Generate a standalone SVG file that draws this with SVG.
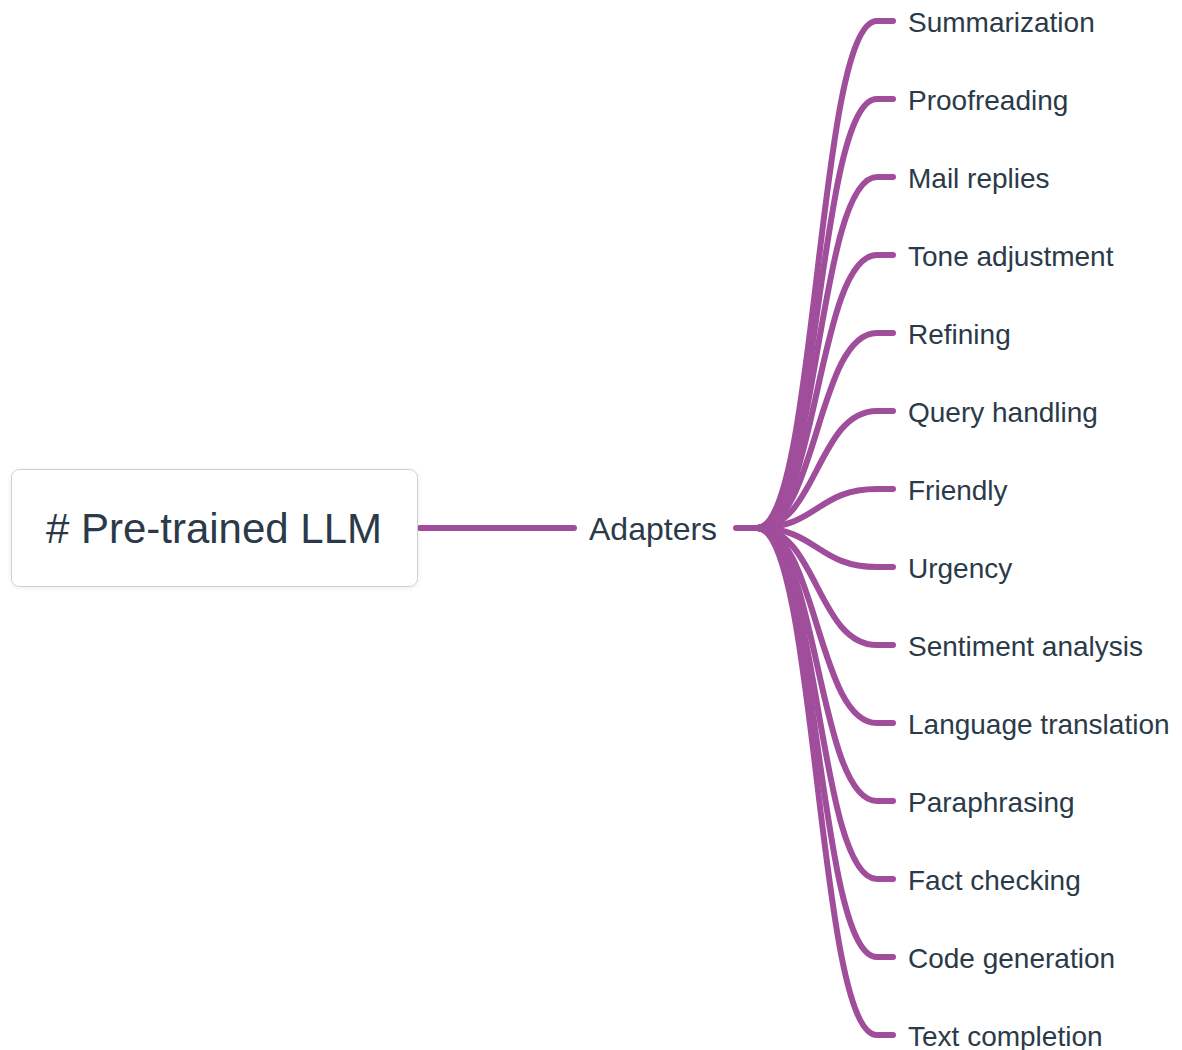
<svg xmlns="http://www.w3.org/2000/svg" width="1182" height="1050" viewBox="0 0 1182 1050">
<defs>
<filter id="sh" x="-10%" y="-20%" width="120%" height="140%">
<feDropShadow dx="0" dy="1" stdDeviation="2" flood-color="#000" flood-opacity="0.08"/>
</filter>
<style>
.ln{fill:none;stroke:#a04d9b;stroke-width:6;stroke-linecap:round;stroke-linejoin:round}
.t{font-family:"Liberation Sans",Arial,sans-serif;fill:#2b3a48}
.leaf{font-size:28px}
</style>
</defs>
<rect width="1182" height="1050" fill="#ffffff"/>
<g id="connectors">
<path class="ln" d="M420,528 L574,528"/>
<path class="ln" d="M736,528 L757,528"/>
<path class="ln" d="M757,528 C817,528 817,21 877,21 L893,21"/>
<path class="ln" d="M757,528 C817,528 817,99 877,99 L893,99"/>
<path class="ln" d="M757,528 C817,528 817,177 877,177 L893,177"/>
<path class="ln" d="M757,528 C817,528 817,255 877,255 L893,255"/>
<path class="ln" d="M757,528 C817,528 817,333 877,333 L893,333"/>
<path class="ln" d="M757,528 C817,528 817,411 877,411 L893,411"/>
<path class="ln" d="M757,528 C817,528 817,489 877,489 L893,489"/>
<path class="ln" d="M757,528 C817,528 817,567 877,567 L893,567"/>
<path class="ln" d="M757,528 C817,528 817,645 877,645 L893,645"/>
<path class="ln" d="M757,528 C817,528 817,723 877,723 L893,723"/>
<path class="ln" d="M757,528 C817,528 817,801 877,801 L893,801"/>
<path class="ln" d="M757,528 C817,528 817,879 877,879 L893,879"/>
<path class="ln" d="M757,528 C817,528 817,957 877,957 L893,957"/>
<path class="ln" d="M757,528 C817,528 817,1035 877,1035 L893,1035"/>
</g>
<g id="root">
<rect x="11.5" y="469.5" width="406" height="117" rx="8" fill="#ffffff" stroke="#d0d0d0" stroke-width="1" filter="url(#sh)"/>
<text class="t" x="214" y="543" font-size="42" text-anchor="middle"># Pre-trained LLM</text>
</g>
<g id="adapters"><text class="t" x="589" y="540" font-size="32">Adapters</text></g>
<g id="n1"><text class="t leaf" x="908" y="32">Summarization</text></g>
<g id="n2"><text class="t leaf" x="908" y="110">Proofreading</text></g>
<g id="n3"><text class="t leaf" x="908" y="188">Mail replies</text></g>
<g id="n4"><text class="t leaf" x="908" y="266">Tone adjustment</text></g>
<g id="n5"><text class="t leaf" x="908" y="344">Refining</text></g>
<g id="n6"><text class="t leaf" x="908" y="422">Query handling</text></g>
<g id="n7"><text class="t leaf" x="908" y="500">Friendly</text></g>
<g id="n8"><text class="t leaf" x="908" y="578">Urgency</text></g>
<g id="n9"><text class="t leaf" x="908" y="656">Sentiment analysis</text></g>
<g id="n10"><text class="t leaf" x="908" y="734">Language translation</text></g>
<g id="n11"><text class="t leaf" x="908" y="812">Paraphrasing</text></g>
<g id="n12"><text class="t leaf" x="908" y="890">Fact checking</text></g>
<g id="n13"><text class="t leaf" x="908" y="968">Code generation</text></g>
<g id="n14"><text class="t leaf" x="908" y="1046">Text completion</text></g>
</svg>
